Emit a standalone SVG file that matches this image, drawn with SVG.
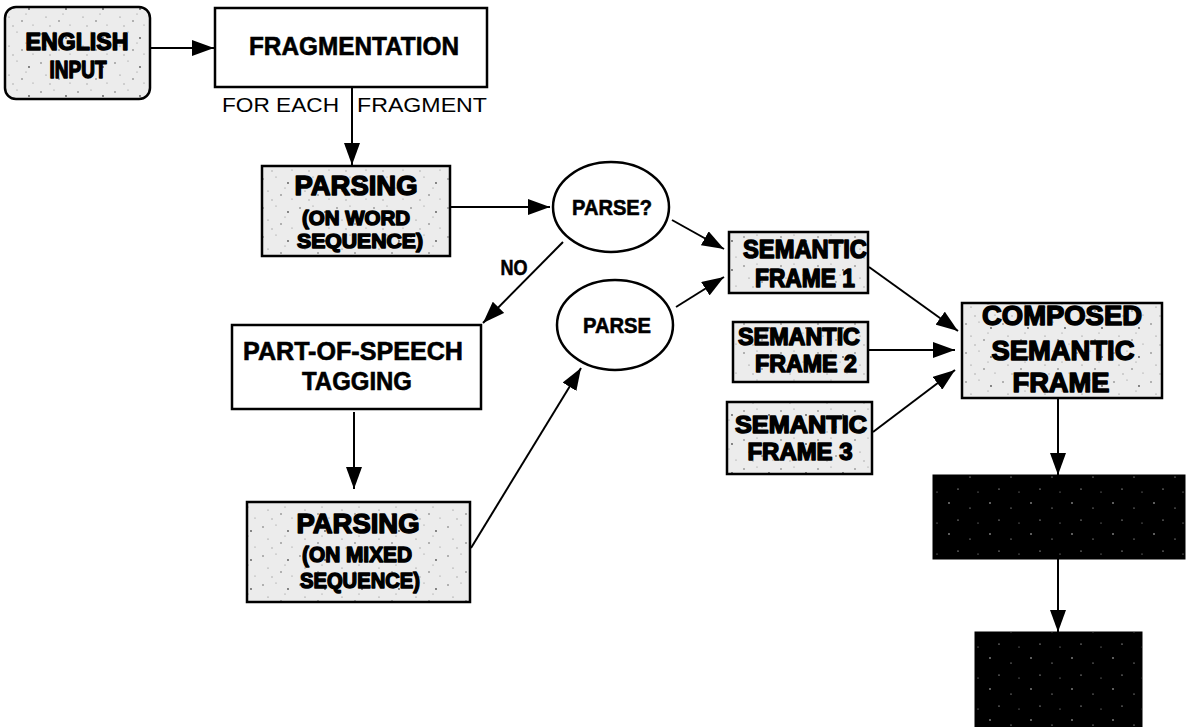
<svg xmlns="http://www.w3.org/2000/svg" width="1187" height="727" viewBox="0 0 1187 727">
  <defs>
    <!-- grainy light-grey fill used by the shaded boxes -->
    <pattern id="speckle" width="37" height="29" patternUnits="userSpaceOnUse">
      <rect width="37" height="29" fill="#ececec"/>
      <circle cx="4" cy="5" r="0.8" fill="#666"/>
      <circle cx="17" cy="3" r="0.6" fill="#888"/>
      <circle cx="29" cy="9" r="0.9" fill="#555"/>
      <circle cx="9" cy="17" r="0.6" fill="#777"/>
      <circle cx="22" cy="21" r="0.8" fill="#666"/>
      <circle cx="33" cy="25" r="0.6" fill="#888"/>
      <circle cx="13" cy="26" r="0.7" fill="#999"/>
      <circle cx="26" cy="14" r="0.5" fill="#777"/>
    </pattern>
    <!-- dark fill with sparse light flecks -->
    <pattern id="darkspeckle" width="41" height="31" patternUnits="userSpaceOnUse">
      <rect width="41" height="31" fill="#000"/>
      <circle cx="6" cy="7" r="0.7" fill="#fff"/>
      <circle cx="27" cy="12" r="0.6" fill="#ddd"/>
      <circle cx="15" cy="24" r="0.6" fill="#fff"/>
      <circle cx="35" cy="27" r="0.5" fill="#ccc"/>
    </pattern>
    <marker id="ah" viewBox="0 0 22 16" refX="22" refY="8" markerWidth="22" markerHeight="16" markerUnits="userSpaceOnUse" orient="auto">
      <path d="M0,0 L22,8 L0,16 z" fill="#000"/>
    </marker>
    <style>
      .box { stroke: #000; stroke-width: 2.5; }
      .plain { fill: #fff; }
      .shade { fill: url(#speckle); }
      .dark { fill: url(#darkspeckle); stroke: #000; stroke-width: 1; }
      .heavy { font-family: "Liberation Sans", Arial, sans-serif; font-weight: bold; fill: #000; stroke: #000; stroke-width: 1.5; stroke-linejoin: round; text-anchor: middle; }
      .bold { font-family: "Liberation Sans", Arial, sans-serif; font-weight: bold; fill: #000; stroke: #000; stroke-width: 0.6; text-anchor: middle; }
      .label { font-family: "Liberation Sans", Arial, sans-serif; fill: #000; font-size: 21px; }
      .conn { stroke: #000; stroke-width: 2; fill: none; marker-end: url(#ah); }
    </style>
  </defs>

  <rect width="1187" height="727" fill="#fff"/>

  <!-- connectors -->
  <g id="connectors">
    <path class="conn" d="M151,48 L214,48"/>
    <path class="conn" d="M352,87 L352,165"/>
    <path class="conn" d="M450,207 L550,207"/>
    <path class="conn" d="M563,242 L483,323"/>
    <path class="conn" d="M354,412 L354,489"/>
    <path class="conn" d="M471,548 L581,368"/>
    <path class="conn" d="M672,220 L724,249"/>
    <path class="conn" d="M676,307 L724,277"/>
    <path class="conn" d="M869,267 L958,331"/>
    <path class="conn" d="M868,350 L955,350"/>
    <path class="conn" d="M873,432 L955,370"/>
    <path class="conn" d="M1058,398 L1058,475"/>
    <path class="conn" d="M1058,559 L1058,632"/>
    <text class="label" x="222" y="112" textLength="117" lengthAdjust="spacingAndGlyphs">FOR EACH</text>
    <text class="label" x="357" y="112" textLength="130" lengthAdjust="spacingAndGlyphs">FRAGMENT</text>
    <text class="bold" x="514" y="275" font-size="22" textLength="27" lengthAdjust="spacingAndGlyphs">NO</text>
  </g>

  <g id="english-input">
    <rect class="box shade" x="5" y="7" width="145" height="92" rx="11"/>
    <text class="heavy" x="77" y="50" font-size="24.5" textLength="103" lengthAdjust="spacingAndGlyphs">ENGLISH</text>
    <text class="heavy" x="78" y="78" font-size="24.5" textLength="57" lengthAdjust="spacingAndGlyphs">INPUT</text>
  </g>

  <g id="fragmentation">
    <rect class="box plain" x="215" y="8" width="272" height="79"/>
    <text class="bold" x="354" y="55" font-size="25" textLength="210" lengthAdjust="spacingAndGlyphs">FRAGMENTATION</text>
  </g>

  <g id="parsing-word">
    <rect class="box shade" x="262" y="166" width="188" height="90"/>
    <text class="heavy" x="356" y="195" font-size="28" textLength="123" lengthAdjust="spacingAndGlyphs">PARSING</text>
    <text class="heavy" x="356" y="225" font-size="20.5" textLength="108" lengthAdjust="spacingAndGlyphs">(ON WORD</text>
    <text class="heavy" x="360" y="248" font-size="20.5" textLength="126" lengthAdjust="spacingAndGlyphs">SEQUENCE)</text>
  </g>

  <g id="parse-question">
    <ellipse cx="611" cy="207" rx="58" ry="45" fill="#fff" stroke="#000" stroke-width="2.5"/>
    <text class="bold" x="612" y="215" font-size="22" textLength="80" lengthAdjust="spacingAndGlyphs">PARSE?</text>
  </g>

  <g id="parse">
    <ellipse cx="615" cy="325" rx="58" ry="45" fill="#fff" stroke="#000" stroke-width="2.5"/>
    <text class="bold" x="617" y="333" font-size="22" textLength="68" lengthAdjust="spacingAndGlyphs">PARSE</text>
  </g>

  <g id="pos-tagging">
    <rect class="box plain" x="232" y="325" width="249" height="84"/>
    <text class="bold" x="353" y="360" font-size="25" textLength="220" lengthAdjust="spacingAndGlyphs">PART-OF-SPEECH</text>
    <text class="bold" x="357" y="390" font-size="25" textLength="110" lengthAdjust="spacingAndGlyphs">TAGGING</text>
  </g>

  <g id="parsing-mixed">
    <rect class="box shade" x="247" y="502" width="223" height="100"/>
    <text class="heavy" x="358" y="533" font-size="28" textLength="123" lengthAdjust="spacingAndGlyphs">PARSING</text>
    <text class="heavy" x="357" y="562" font-size="22.5" textLength="110" lengthAdjust="spacingAndGlyphs">(ON MIXED</text>
    <text class="heavy" x="360" y="588" font-size="22.5" textLength="120" lengthAdjust="spacingAndGlyphs">SEQUENCE)</text>
  </g>

  <g id="semantic-frame-1">
    <rect class="box shade" x="729" y="232" width="139" height="61"/>
    <text class="heavy" x="805" y="258" font-size="25.5" textLength="124" lengthAdjust="spacingAndGlyphs">SEMANTIC</text>
    <text class="heavy" x="805" y="287" font-size="25.5" textLength="100" lengthAdjust="spacingAndGlyphs">FRAME 1</text>
  </g>

  <g id="semantic-frame-2">
    <rect class="box shade" x="733" y="322" width="135" height="60"/>
    <text class="heavy" x="799" y="345" font-size="24" textLength="122" lengthAdjust="spacingAndGlyphs">SEMANTIC</text>
    <text class="heavy" x="806" y="372" font-size="24" textLength="102" lengthAdjust="spacingAndGlyphs">FRAME 2</text>
  </g>

  <g id="semantic-frame-3">
    <rect class="box shade" x="727" y="402" width="145" height="72"/>
    <text class="heavy" x="801" y="433" font-size="24" textLength="132" lengthAdjust="spacingAndGlyphs">SEMANTIC</text>
    <text class="heavy" x="800" y="460" font-size="24" textLength="105" lengthAdjust="spacingAndGlyphs">FRAME 3</text>
  </g>

  <g id="composed-frame">
    <rect class="box shade" x="962" y="303" width="200" height="95"/>
    <text class="heavy" x="1062" y="325" font-size="28" textLength="160" lengthAdjust="spacingAndGlyphs">COMPOSED</text>
    <text class="heavy" x="1063" y="360" font-size="28" textLength="143" lengthAdjust="spacingAndGlyphs">SEMANTIC</text>
    <text class="heavy" x="1061" y="392" font-size="28" textLength="97" lengthAdjust="spacingAndGlyphs">FRAME</text>
  </g>

  <g id="dark-box-1">
    <rect class="dark" x="933" y="475" width="252" height="84"/>
  </g>

  <g id="dark-box-2">
    <rect class="dark" x="975" y="632" width="167" height="95"/>
  </g>
</svg>
